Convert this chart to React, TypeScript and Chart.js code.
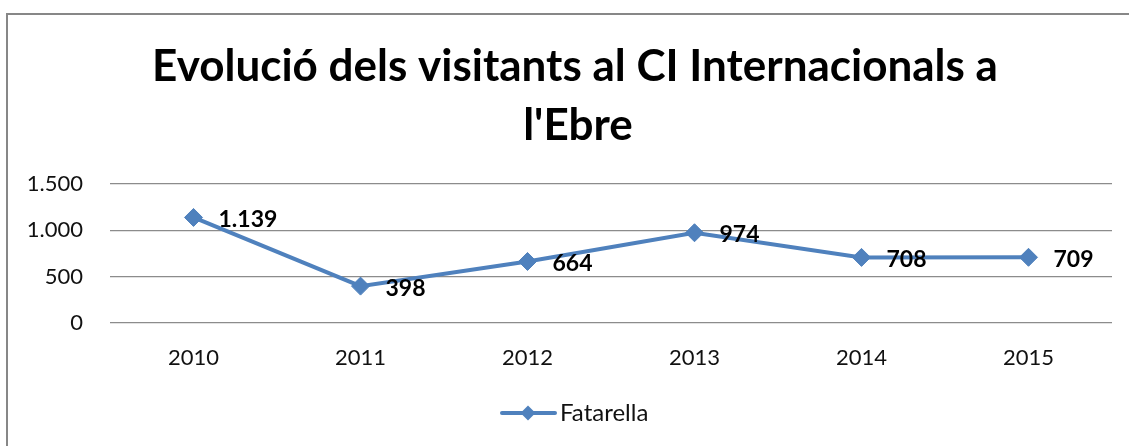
import React, { useEffect, useRef } from "react";
import { Chart, registerables } from "chart.js";

Chart.register(...registerables);

const categories = ["2010", "2011", "2012", "2013", "2014", "2015"];
const seriesName = "Fatarella";
const values = [1139, 398, 664, 974, 708, 709];
const yMin = 0;
const yMax = 1500;
const yStep = 500;
const titleLines = ["Evolució dels visitants al CI Internacionals a", "l'Ebre"];

const BLUE = "#4F81BD";
const FONT = "Lato, 'Open Sans', sans-serif";

const fmt = (v: number) => String(Math.round(v)).replace(/\B(?=(\d{3})+(?!\d))/g, ".");

const decorPlugin = {
  id: "decor",
  beforeDraw(chart: any) {
    const ctx = chart.ctx;
    ctx.save();
    ctx.fillStyle = "#ffffff";
    ctx.fillRect(0, 0, chart.width, chart.height);
    ctx.strokeStyle = "#878787";
    ctx.lineWidth = 2;
    ctx.beginPath();
    ctx.moveTo(7, chart.height + 10);
    ctx.lineTo(7, 14);
    ctx.lineTo(chart.width + 10, 14);
    ctx.stroke();
    // title
    ctx.fillStyle = "#000000";
    ctx.font = `bold 44px ${FONT}`;
    ctx.textAlign = "center";
    ctx.textBaseline = "alphabetic";
    ctx.fillText(titleLines[0], 575, 81, 856);
    ctx.fillText(titleLines[1], 578, 140);
    // legend
    const ly = 413;
    ctx.strokeStyle = BLUE;
    ctx.lineWidth = 4;
    ctx.lineCap = "round";
    ctx.beginPath();
    ctx.moveTo(502, ly);
    ctx.lineTo(555, ly);
    ctx.stroke();
    ctx.fillStyle = BLUE;
    ctx.beginPath();
    ctx.moveTo(528, ly - 7.5);
    ctx.lineTo(535.5, ly);
    ctx.lineTo(528, ly + 7.5);
    ctx.lineTo(520.5, ly);
    ctx.closePath();
    ctx.fill();
    ctx.fillStyle = "#111111";
    ctx.font = `24px ${FONT}`;
    ctx.textAlign = "left";
    ctx.textBaseline = "middle";
    ctx.fillText(seriesName, 560, ly);
    ctx.restore();
  },
  afterDatasetsDraw(chart: any) {
    const ctx = chart.ctx;
    const meta = chart.getDatasetMeta(0);
    ctx.save();
    ctx.fillStyle = "#000000";
    ctx.font = `bold 23px ${FONT}`;
    ctx.textAlign = "left";
    ctx.textBaseline = "middle";
    meta.data.forEach((pt: any, i: number) => {
      ctx.fillText(fmt(values[i]), pt.x + 25, pt.y + 2);
    });
    ctx.restore();
  },
};

export default function App() {
  const ref = useRef<HTMLCanvasElement | null>(null);
  useEffect(() => {
    if (!ref.current) return;
    const chart = new Chart(ref.current, {
      type: "line",
      data: {
        labels: categories,
        datasets: [
          {
            label: seriesName,
            data: values,
            borderColor: BLUE,
            backgroundColor: BLUE,
            borderWidth: 4,
            pointStyle: "rectRot",
            pointRadius: 9,
            pointBorderWidth: 1,
            pointBackgroundColor: BLUE,
            pointBorderColor: BLUE,
            tension: 0,
          },
        ],
      },
      options: {
        animation: false,
        responsive: false,
        maintainAspectRatio: false,
        layout: { padding: { left: 0, top: 184, right: 17, bottom: 63 } },
        plugins: {
          legend: { display: false },
          title: { display: false },
          tooltip: { enabled: false },
        },
        scales: {
          x: {
            offset: true,
            grid: { display: false, drawTicks: false },
            border: { display: false },
            ticks: { padding: 22, color: "#111111", font: { family: FONT, size: 22 } },
            afterFit(scale: any) {
              scale.height = 60;
            },
          },
          y: {
            min: yMin,
            max: yMax,
            grid: { color: "#8c8c8c", lineWidth: 1.2, drawTicks: false },
            border: { display: false },
            ticks: {
              stepSize: yStep,
              padding: 27,
              color: "#111111",
              font: { family: FONT, size: 22 },
              callback: (v: any) => fmt(Number(v)),
            },
            afterFit(scale: any) {
              scale.width = 110;
            },
          },
        },
      },
      plugins: [decorPlugin],
    });
    return () => chart.destroy();
  }, []);
  return (
    <div style={{ position: "absolute", left: 0, top: 0, width: 1129, height: 446, background: "#fff" }}>
      <canvas ref={ref} width={1129} height={446} style={{ display: "block", width: 1129, height: 446 }} />
    </div>
  );
}
